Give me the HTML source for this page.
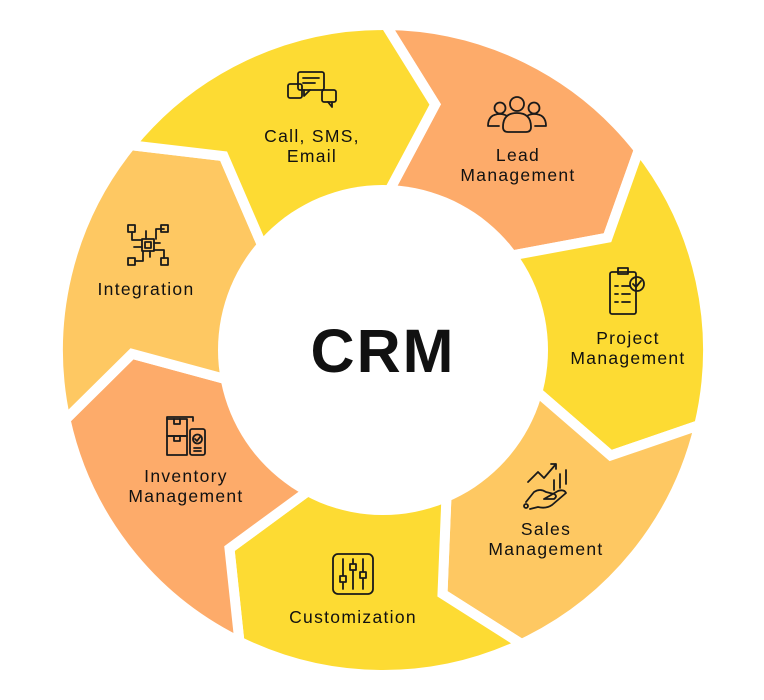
<!DOCTYPE html>
<html><head><meta charset="utf-8"><style>
html,body{margin:0;padding:0;background:#fff;}
svg{display:block}
text{font-family:"Liberation Sans",sans-serif;fill:#111;}
.l{font-size:17.5px;text-anchor:middle;letter-spacing:1.3px}
.ic{fill:none;stroke:#1a1a1a;stroke-width:1.8;stroke-linejoin:round;stroke-linecap:round}
</style></head><body>
<svg id="s" width="764" height="700" viewBox="0 0 764 700">
<g id="segs"></g>
<circle cx="383" cy="350" r="165" fill="#fff"/>
<text x="383" y="372" text-anchor="middle" style="font-size:61px;font-weight:bold;letter-spacing:2px">CRM</text>

<!-- Call -->
<g class="ic" transform="translate(312,92)">
<rect x="-14" y="-20" width="26" height="18" rx="2"/><path d="M-8,-2 l0,6 l6,-6"/>
<path d="M-9,-14 h16 M-9,-9 h12"/>
<rect x="-24" y="-8" width="14" height="14" rx="2"/><rect x="10" y="-2" width="14" height="12" rx="2"/><path d="M16,10 l4,5 l0,-5"/>
</g>
<text class="l" x="312" y="142">Call, SMS,</text><text class="l" x="312" y="162">Email</text>
<!-- Lead -->
<g class="ic" transform="translate(517,113)">
<circle cx="0" cy="-9" r="7"/><path d="M-14,14 q0,-14 14,-14 q14,0 14,14 q0,5 -5,5 h-18 q-5,0 -5,-5z"/>
<circle cx="-17" cy="-5" r="5.5"/><path d="M-10,3 q-3,-2 -7,-2 q-12,0 -12,12 h11"/>
<circle cx="17" cy="-5" r="5.5"/><path d="M10,3 q3,-2 7,-2 q12,0 12,12 h-11"/>
</g>
<text class="l" x="518" y="161">Lead</text><text class="l" x="518" y="181">Management</text>
<!-- Project -->
<g class="ic" transform="translate(625,292)">
<rect x="-15" y="-20" width="26" height="42" rx="2"/><rect x="-7" y="-24" width="10" height="6"/>
<path d="M-10,-6 h3 M-3,-6 h8 M-10,2 h3 M-3,2 h8 M-10,10 h3 M-3,10 h8"/>
<circle cx="12" cy="-8" r="7"/><path d="M8,-8 l3,3 l5,-6"/>
</g>
<text class="l" x="628" y="344">Project</text><text class="l" x="628" y="364">Management</text>
<!-- Sales -->
<g class="ic" transform="translate(548,486)">
<path d="M-20,-4 l10,-10 l6,6 l12,-14 M3,-22 h5 v5"/>
<path d="M6,-6 v10 M12,-12 v14 M18,-16 v14"/>
<path d="M-22,16 l8,-10 q6,-4 12,0 l8,2 q4,2 0,5 l-10,0 M-4,13 l14,-8 q6,-2 8,2 l-14,12 q-6,4 -14,2 l-8,2"/>
<circle cx="-22" cy="20" r="2"/>
</g>
<text class="l" x="546" y="535">Sales</text><text class="l" x="546" y="555">Management</text>
<!-- Customization -->
<g class="ic" transform="translate(353,574)">
<rect x="-20" y="-20" width="40" height="40" rx="5"/>
<path d="M-10,-15 v30 M0,-15 v30 M10,-15 v30"/>
<rect x="-13" y="2" width="6" height="6" fill="#fddb33"/><rect x="-3" y="-10" width="6" height="6" fill="#fddb33"/><rect x="7" y="-2" width="6" height="6" fill="#fddb33"/>
</g>
<text class="l" x="353" y="623">Customization</text>
<!-- Inventory -->
<g class="ic" transform="translate(186,437)">
<rect x="-19" y="-18" width="20" height="17"/><rect x="-19" y="-1" width="20" height="19"/>
<path d="M-19,-18 v-2 h26 v4 M-12,-18 v5 h6 v-5 M-12,-1 v5 h6 v-5"/>
<rect x="4" y="-8" width="15" height="26" rx="2"/><circle cx="11.5" cy="2" r="4.5"/><path d="M9,2 l2,2 l3,-4 M8,11 h7 M8,14 h7"/>
</g>
<text class="l" x="186" y="482">Inventory</text><text class="l" x="186" y="502">Management</text>
<!-- Integration -->
<g class="ic" transform="translate(148,245)">
<rect x="-6" y="-6" width="12" height="12"/><rect x="-3" y="-3" width="6" height="6"/>
<rect x="-20" y="-20" width="7" height="7"/><rect x="13" y="-20" width="7" height="7"/><rect x="-20" y="13" width="7" height="7"/><rect x="13" y="13" width="7" height="7"/>
<path d="M-16,-13 v8 h10 M16,-16 h-8 v10 M-13,16 h8 v-10 M16,13 v-8 h-10 M-2,-6 v-8 M2,6 v6 M-6,2 h-8 M6,-2 h6"/>
</g>
<text class="l" x="146" y="295">Integration</text>
</svg>
<script>
(function(){
var cx=383,cy=350,R=325,r=150,Rm=251,d=11.5;
var cols=["#fdab6a","#fddb33","#fec862","#fddb33","#fdab6a","#fec862","#fddb33"];
function p(a,rad){var t=a*Math.PI/180;return (cx+rad*Math.sin(t)).toFixed(1)+","+(cy-rad*Math.cos(t)).toFixed(1);}
var g=document.getElementById("segs"),h="";
for(var i=0;i<7;i++){
 var a0=i*360/7+0.5,a1=a0+360/7;
 var dd="M"+p(a0,R)+" A"+R+","+R+" 0 0 1 "+p(a1,R)+" L"+p(a1+d,Rm)+" L"+p(a1,r)+" A"+r+","+r+" 0 0 0 "+p(a0,r)+" L"+p(a0+d,Rm)+" Z";
 h+='<path d="'+dd+'" fill="'+cols[i]+'" stroke="#fff" stroke-width="10" stroke-linejoin="miter"/>';
}
g.innerHTML=h;
})();
</script>
</body></html>
